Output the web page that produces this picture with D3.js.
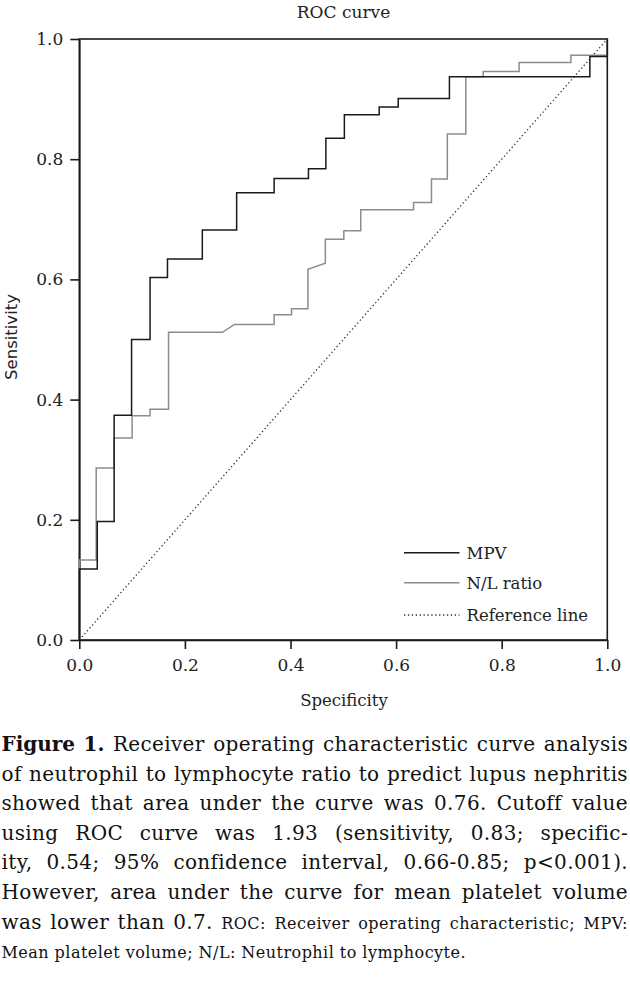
<!DOCTYPE html>
<html>
<head>
<meta charset="utf-8">
<script src="https://cdn.jsdelivr.net/npm/d3@7"></script>
<style>
body { margin: 0; background: #fff; }
svg { display: block; }
</style>
</head>
<body>
<div id="chart"></div>
<script>
// ROC vertices (specificity axis, sensitivity)
var mpvSpec = [0, 0, 0.034, 0.034, 0.066, 0.066, 0.099, 0.099, 0.134, 0.134, 0.167, 0.167,
    0.233, 0.233, 0.298, 0.298, 0.369, 0.369, 0.434, 0.434, 0.467, 0.467, 0.502, 0.502,
    0.568, 0.568, 0.604, 0.604, 0.701, 0.701, 0.967, 0.967, 1, 1];
var mpvSens = [0, 0.118, 0.118, 0.197, 0.197, 0.374, 0.374, 0.500, 0.500, 0.603, 0.603, 0.634,
    0.634, 0.682, 0.682, 0.744, 0.744, 0.768, 0.768, 0.784, 0.784, 0.835, 0.835, 0.874,
    0.874, 0.887, 0.887, 0.901, 0.901, 0.937, 0.937, 0.971, 0.971, 1];

var nlSpec = [0, 0, 0.032, 0.032, 0.066, 0.066, 0.100, 0.100, 0.134, 0.134, 0.169, 0.169,
    0.271, 0.294, 0.369, 0.369, 0.402, 0.402, 0.433, 0.433, 0.466, 0.466, 0.501, 0.501,
    0.533, 0.533, 0.633, 0.633, 0.667, 0.667, 0.697, 0.697, 0.732, 0.732, 0.765, 0.765,
    0.833, 0.833, 0.931, 0.931, 1, 1];
var nlSens = [0, 0.133, 0.133, 0.286, 0.286, 0.336, 0.336, 0.373, 0.373, 0.384, 0.384, 0.512,
    0.512, 0.525, 0.525, 0.541, 0.541, 0.551, 0.551, 0.617, 0.627, 0.667, 0.667, 0.681,
    0.681, 0.716, 0.716, 0.728, 0.728, 0.767, 0.767, 0.842, 0.842, 0.937, 0.937, 0.946,
    0.946, 0.961, 0.961, 0.973, 0.973, 1];

var refSpec = [0, 1];
var refSens = [0, 1];

var tickValues = [0, 0.2, 0.4, 0.6, 0.8, 1.0];
var legendLabels = ['MPV', 'N/L ratio', 'Reference line'];

var title = 'ROC curve';
var xTitle = 'Specificity';
var yTitle = 'Sensitivity';

// caption: [text, style] segments, b = bold, n = normal, s = small
var captionLines = [
    [['Figure 1.', 'b'], ['Receiver operating characteristic curve analysis', 'n']],
    [['of neutrophil to lymphocyte ratio to predict lupus nephritis', 'n']],
    [['showed that area under the curve was 0.76. Cutoff value', 'n']],
    [['using ROC curve was 1.93 (sensitivity, 0.83; specific-', 'n']],
    [['ity, 0.54; 95% confidence interval, 0.66-0.85; p<0.001).', 'n']],
    [['However, area under the curve for mean platelet volume', 'n']],
    [['was lower than 0.7.', 'n'], ['ROC: Receiver operating characteristic; MPV:', 's']],
    [['Mean platelet volume; N/L: Neutrophil to lymphocyte.', 's']]
];

var width = 630, height = 992;
var serif = '"DejaVu Serif", serif';
var sans = '"DejaVu Sans", sans-serif';
var black = '#1a1a1a';

var plot = { left: 79.3, right: 607.3, top: 39, bottom: 640 };

var svg = d3.select('#chart').append('svg')
    .attr('width', width)
    .attr('height', height);

var x = d3.scaleLinear().domain([0, 1]).range([plot.left, plot.right]);
var y = d3.scaleLinear().domain([0, 1]).range([plot.bottom, plot.top]);

function px(v) { return v + 'px'; }

// axes
var xAxis = svg.append('g')
    .attr('transform', 'translate(0,' + plot.bottom + ')')
    .call(d3.axisBottom(x).tickValues(tickValues).tickFormat(d3.format('.1f'))
        .tickSize(9).tickSizeOuter(0).tickPadding(10));

var yAxis = svg.append('g')
    .attr('transform', 'translate(' + plot.left + ',0)')
    .call(d3.axisLeft(y).tickValues(tickValues).tickFormat(d3.format('.1f'))
        .tickSize(9).tickSizeOuter(0).tickPadding(7));

[xAxis, yAxis].forEach(function(ax) {
    ax.selectAll('path, line').attr('stroke', black).attr('stroke-width', 1.6);
    ax.selectAll('text')
        .style('font-family', serif)
        .style('font-size', px(17))
        .attr('fill', '#222');
});

// box
svg.append('rect')
    .attr('x', x(0))
    .attr('y', y(1))
    .attr('width', x(1) - x(0))
    .attr('height', y(0) - y(1))
    .attr('fill', 'none')
    .attr('stroke', black)
    .attr('stroke-width', 1.6);

var line = d3.line()
    .x(function(d) { return x(d[0]); })
    .y(function(d) { return y(d[1]); });

var series = [
    { spec: refSpec, sens: refSens, color: '#333', width: 1.3, dash: '1.3 2.6' },
    { spec: nlSpec, sens: nlSens, color: '#8c8c8c', width: 1.5, dash: null },
    { spec: mpvSpec, sens: mpvSens, color: black, width: 1.5, dash: null }
];

series.forEach(function(s) {
    svg.append('path')
        .attr('d', line(d3.zip(s.spec, s.sens)))
        .attr('fill', 'none')
        .attr('stroke', s.color)
        .attr('stroke-width', s.width)
        .attr('stroke-dasharray', s.dash);
});

// legend
var legendStyles = [series[2], series[1], series[0]];
var legendY = [552.7, 582.7, 615];
legendLabels.forEach(function(label, i) {
    var s = legendStyles[i];
    svg.append('line')
        .attr('x1', 404).attr('x2', 459.5)
        .attr('y1', legendY[i]).attr('y2', legendY[i])
        .attr('stroke', s.color)
        .attr('stroke-width', s.width)
        .attr('stroke-dasharray', s.dash);
    svg.append('text')
        .attr('x', 466.5)
        .attr('y', legendY[i])
        .attr('dy', '0.36em')
        .style('font-family', serif)
        .style('font-size', px(16.5))
        .attr('fill', '#222')
        .text(label);
});

// titles
svg.append('text')
    .attr('x', 343.5).attr('y', 18)
    .attr('text-anchor', 'middle')
    .style('font-family', serif)
    .style('font-size', px(17))
    .attr('fill', '#222')
    .text(title);

svg.append('text')
    .attr('x', 344).attr('y', 705.5)
    .attr('text-anchor', 'middle')
    .style('font-family', serif)
    .style('font-size', px(16.5))
    .attr('fill', '#222')
    .text(xTitle);

svg.append('text')
    .attr('transform', 'translate(17,337) rotate(-90)')
    .attr('text-anchor', 'middle')
    .style('font-family', sans)
    .style('font-size', px(16.5))
    .attr('fill', '#222')
    .text(yTitle);

// caption, justified word by word
var captionTop = 751, captionStep = 29.6;
var capLeft = 1.5, capRight = 628;
var styleSize = { b: 20, n: 20, s: 16 };
var styleSpacing = { b: 0, n: 0.35, s: 0.5 };

captionLines.forEach(function(segs, li) {
    var baseline = captionTop + li * captionStep;
    var last = li === captionLines.length - 1;
    var words = [];
    segs.forEach(function(seg) {
        seg[0].split(' ').forEach(function(w) { words.push({ t: w, st: seg[1] }); });
    });
    if (last) {
        svg.append('text')
            .attr('x', capLeft).attr('y', baseline)
            .style('font-family', serif)
            .style('font-size', px(styleSize.s))
            .attr('textLength', 464)
            .attr('lengthAdjust', 'spacing')
            .attr('fill', '#111')
            .text(segs[0][0]);
        return;
    }
    var nodes = words.map(function(w) {
        return svg.append('text')
            .attr('y', baseline)
            .style('font-family', serif)
            .style('font-size', px(styleSize[w.st]))
            .style('font-weight', w.st === 'b' ? 'bold' : 'normal')
            .style('letter-spacing', px(styleSpacing[w.st]))
            .attr('fill', '#111')
            .text(w.t);
    });
    var widths = nodes.map(function(n) { return n.node().getComputedTextLength(); });
    var gap = (capRight - capLeft - d3.sum(widths)) / (nodes.length - 1);
    var pos = capLeft;
    nodes.forEach(function(n, i) {
        n.attr('x', pos);
        pos += widths[i] + gap;
    });
});
</script>
</body>
</html>
